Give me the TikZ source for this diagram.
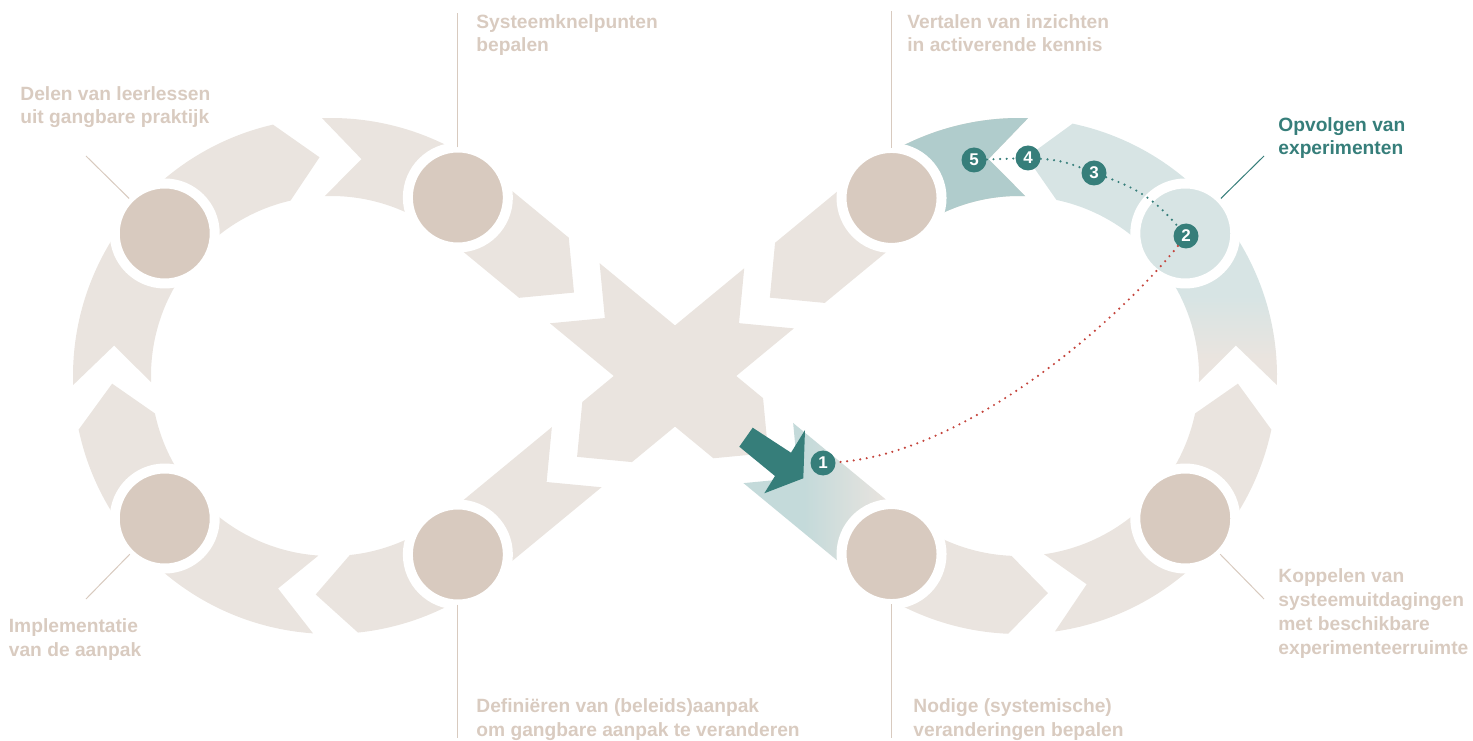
\documentclass[tikz,border=0pt]{standalone}
\usepackage{fontspec}
\setmainfont{Liberation Sans}
\usetikzlibrary{calc}

\definecolor{bandfill}{HTML}{EAE4DF}
\definecolor{stagefill}{HTML}{D8CABF}
\definecolor{labelgrey}{HTML}{D9CBC0}
\definecolor{tealdark}{HTML}{367E7A}
\definecolor{tealpale}{HTML}{D7E4E4}
\definecolor{tealsoft}{HTML}{C4DADA}
\definecolor{tealmid}{HTML}{B0CCCC}
\definecolor{dotred}{HTML}{C4443C}

\pgfdeclarehorizontalshading{arrowfade}{100bp}{color(0bp)=(tealsoft); color(35bp)=(tealsoft); color(49bp)=(bandfill); color(100bp)=(bandfill)}
\pgfdeclareverticalshading{loopfade}{100bp}{color(0bp)=(bandfill); color(30bp)=(bandfill); color(42bp)=(tealpale); color(100bp)=(tealpale)}

\newcommand{\arcpiece}[5]{%
  \path[#5] ($(#1)+(#2:258)$) -- ($(#1)+({#2+(#4)}:219)$) -- ($(#1)+(#2:180)$)
    arc[start angle=#2, end angle=#3, radius=180]
    -- ($(#1)+({#3+(#4)}:219)$) -- ($(#1)+(#3:258)$)
    arc[start angle=#3, end angle=#2, radius=258] -- cycle;}

\begin{document}
\begin{tikzpicture}[x=0.5pt, y=0.5pt,
    band/.style={fill=bandfill},
    stage/.style={circle, fill=stagefill, draw=white, line width=5pt, minimum size=50pt, inner sep=0pt},
    marker/.style={circle, fill=tealdark, text=white, minimum size=12.5pt, inner sep=0pt, font=\fontsize{8.5}{8.5}\selectfont\bfseries},
    lbl/.style={anchor=base west, align=left, inner sep=0pt, text=labelgrey, font=\fontsize{9.6}{11.85}\selectfont\bfseries},
    leader/.style={draw=stagefill, line width=0.5pt, shorten <=-2.5pt},
    trail/.style={line width=1.2pt, line cap=round, dash pattern=on 0pt off 3.3pt}]
    \useasboundingbox (0,0) rectangle (1473,740);

    \coordinate (L) at (331,364);
    \coordinate (R) at (1019,364);
    \coordinate (C) at (675,364);

    % left loop
    \fill[band] ($(C)+(219.55:127.5)+(309.55:39)$) -- ($(C)+(219.55:166.5)$) -- ($(C)+(219.55:127.5)+(129.55:39)$)
        -- ($(L)+(309.55:180)$) arc[start angle=309.55, end angle=276, radius=180]
        -- ($(L)+(266:219)$) -- ($(L)+(276:258)$) arc[start angle=276, end angle=309.55, radius=258] -- cycle;
    \arcpiece{L}{266}{192}{-10}{band}
    \arcpiece{L}{182}{103}{-10}{band}
    \fill[band] ($(L)+(92:258)$) -- ($(L)+(82:219)$) -- ($(L)+(92:180)$)
        arc[start angle=92, end angle=50.45, radius=180]
        -- ($(C)+(140.45:170)+(230.45:39)$) -- ($(C)+(140.45:131)$) -- ($(C)+(140.45:170)+(50.45:39)$)
        -- ($(L)+(50.45:258)$) arc[start angle=50.45, end angle=92, radius=258] -- cycle;

    % crossing
    \fill[band] ($(C)+(-39.55:-130)+(50.45:39)$) -- ($(C)+(-39.55:-91)$) -- ($(C)+(-39.55:-130)+(230.45:39)$)
        -- ($(C)+(-39.55:82)+(230.45:39)$) -- ($(C)+(-39.55:121)$) -- ($(C)+(-39.55:82)+(50.45:39)$) -- cycle;
    \fill[band] ($(C)+(219.55:-122)+(309.55:39)$) -- ($(C)+(219.55:-83)$) -- ($(C)+(219.55:-122)+(129.55:39)$)
        -- ($(C)+(219.55:88)+(129.55:39)$) -- ($(C)+(219.55:127)$) -- ($(C)+(219.55:88)+(309.55:39)$) -- cycle;

    % right loop
    \shade[shading=arrowfade] ($(C)+(-39.55:121)+(50.45:39)$) -- ($(C)+(-39.55:160)$) -- ($(C)+(-39.55:121)+(230.45:39)$)
        -- ($(R)+(230.45:258)$) arc[start angle=230.45, end angle=267.6, radius=258]
        -- ($(R)+(277.6:219)$) -- ($(R)+(267.6:180)$) arc[start angle=267.6, end angle=230.45, radius=180] -- cycle;
    \arcpiece{R}{278}{348}{10}{band}
    \arcpiece{R}{358}{438}{10}{shade, shading=loopfade}
    \fill[band] ($(R)+(88:258)$) -- ($(R)+(98:219)$) -- ($(R)+(88:180)$)
        arc[start angle=88, end angle=129.55, radius=180]
        -- ($(C)+(39.55:162)+(309.55:39)$) -- ($(C)+(39.55:123)$) -- ($(C)+(39.55:162)+(129.55:39)$)
        -- ($(R)+(129.55:258)$) arc[start angle=129.55, end angle=88, radius=258] -- cycle;
    \fill[tealmid] ($(R)+(88:258)$) -- ($(R)+(98:219)$) -- ($(R)+(88:180)$)
        arc[start angle=88, end angle=125.6, radius=180]
        -- ($(R)+(125.6:258)$) arc[start angle=125.6, end angle=88, radius=258] -- cycle;

    \node[stage] (sTL) at ($(L)+(54.6:219)$) {};
    \node[stage] (sLT) at ($(L)+(139.4:219)$) {};
    \node[stage] (sLB) at ($(L)+(220.6:219)$) {};
    \node[stage] (sBL) at ($(L)+(305.4:219)$) {};
    \node[stage] (sTR) at ($(R)+(125.6:219)$) {};
    \node[stage, fill=tealpale] (sRT) at ($(R)+(40.6:219)$) {};
    \node[stage] (sRB) at ($(R)+(319.4:219)$) {};
    \node[stage] (sBR) at ($(R)+(234.4:219)$) {};

    \fill[tealdark] (752.7,312.3) -- (791,287.3) -- (805,310) -- (803.3,261.7) -- (764.3,246.7) -- (775,264) -- (739.3,293.3) -- cycle;

    \node[marker] (n1) at (823,277) {1};
    \node[marker] (n2) at (1186,504) {2};
    \node[marker] (n3) at (1094,567) {3};
    \node[marker] (n4) at (1028,582) {4};
    \node[marker] (n5) at (974,580) {5};

    \draw[trail, tealdark] (n5) -- (n4);
    \draw[trail, tealdark] (n4) to[bend left=9] (n3);
    \draw[trail, tealdark] (n3) to[bend left=15] (n2);
    \draw[trail, dotred] (n2) .. controls (1110,410) and (960,285) .. (n1);

    \node[lbl] (tLT) at (20,616) {Delen van leerlessen\\uit gangbare praktijk};
    \node[lbl] (tTL) at (476,688) {Systeemknelpunten\\bepalen};
    \node[lbl] (tTR) at (907,688) {Vertalen van inzichten\\in activerende kennis};
    \node[lbl, text=tealdark] (tRT) at (1278,585) {Opvolgen van\\experimenten};
    \node[lbl] (tRB) at (1278,86) {Koppelen van\\systeemuitdagingen\\met beschikbare\\experimenteerruimte};
    \node[lbl] (tBR) at (913,4) {Nodige (systemische)\\veranderingen bepalen};
    \node[lbl] (tBL) at (476,4) {Definiëren van (beleids)aanpak\\om gangbare aanpak te veranderen};
    \node[lbl] (tLB) at (8.5,84) {Implementatie\\van de aanpak};

    \coordinate (eLT) at (86,584);
    \coordinate (eTL) at (sTL |- 0,727);
    \coordinate (eTR) at (sTR |- 0,729);
    \coordinate (eRT) at (1264,584);
    \coordinate (eRB) at (1264,141);
    \coordinate (eBR) at (sBR |- 0,2);
    \coordinate (eBL) at (sBL |- 0,2);
    \coordinate (eLB) at (86,141);

    \draw[leader] (sLT) -- (eLT);
    \draw[leader] (sTL) -- (eTL);
    \draw[leader] (sTR) -- (eTR);
    \draw[leader, draw=tealdark] (sRT) -- (eRT);
    \draw[leader] (sRB) -- (eRB);
    \draw[leader] (sBR) -- (eBR);
    \draw[leader] (sBL) -- (eBL);
    \draw[leader] (sLB) -- (eLB);
\end{tikzpicture}
\end{document}
